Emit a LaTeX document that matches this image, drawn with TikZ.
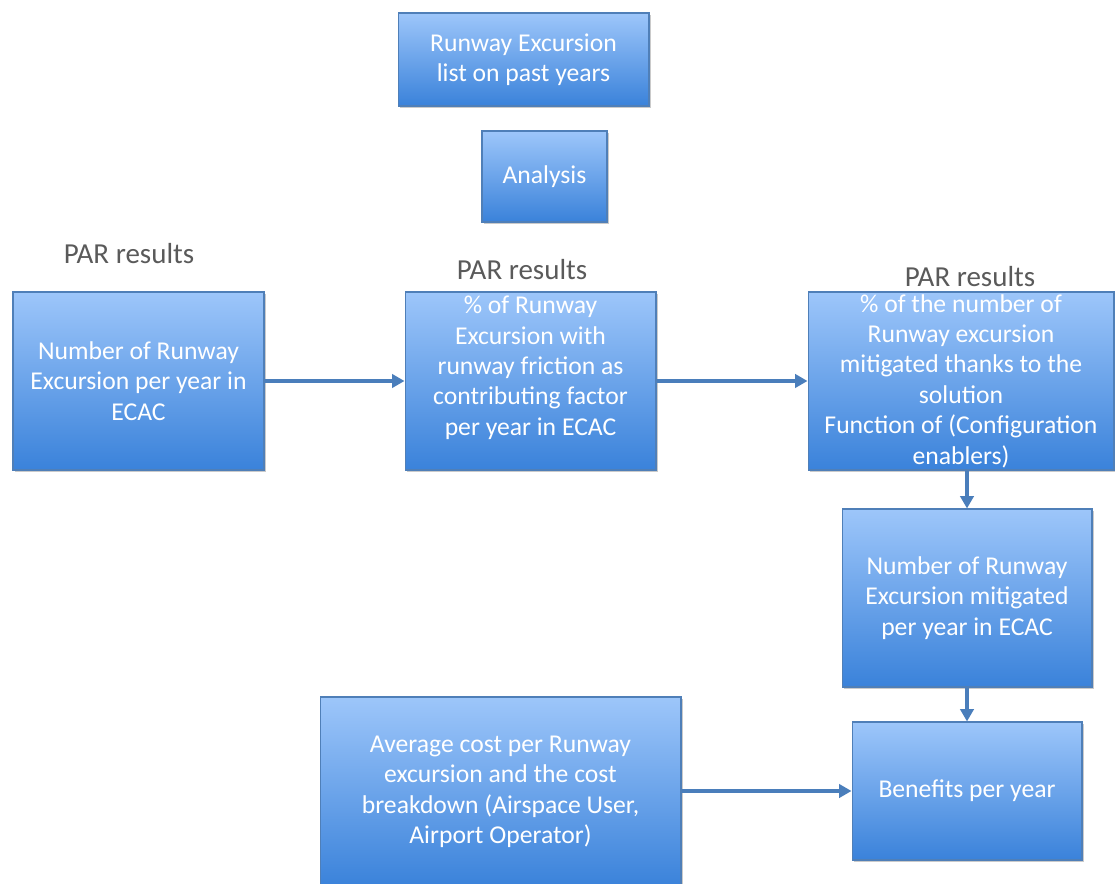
\documentclass[tikz,border=0pt]{standalone}
\usepackage{fontspec}
\setmainfont{Carlito}
\usepackage{tikz}
\usetikzlibrary{arrows.meta,positioning,shadows}
\definecolor{boxtop}{HTML}{9DC6FA}
\definecolor{boxbottom}{HTML}{3A82DA}
\definecolor{boxedge}{HTML}{4F7FB8}
\definecolor{arrowblue}{HTML}{4A7EBB}
\definecolor{labelgray}{HTML}{5A5A5A}
\tikzset{
  procbox/.style={draw=boxedge,line width=0.6pt,top color=boxtop,bottom color=boxbottom,
    text=white,align=center,inner sep=1pt,font=\fontsize{14.6}{17.3}\selectfont,
    drop shadow={shadow xshift=1.2pt,shadow yshift=-1.2pt,opacity=0.35,fill=black!60}},
  flowarrow/.style={-{Triangle[length=7pt,width=7.5pt]},line width=2.2pt,arrowblue},
  parlabel/.style={text=labelgray,font=\fontsize{16.5}{19}\selectfont,inner sep=1pt}
}

\begin{document}
\begin{tikzpicture}[x=0.02cm,y=-0.02cm]
  \useasboundingbox (0,0) rectangle (1115,884);
  % top boxes
  \node[procbox,minimum width=5.02cm,minimum height=1.86cm] (pastlist) at (523.5,59.5) {Runway Excursion\\list on past years};
  \node[procbox,minimum width=2.5cm,minimum height=1.82cm] (analysis) at (544.5,176.5) {Analysis};
  % PAR results row
  \node[parlabel] (parone) at (129,254) {PAR results};
  \node[parlabel] (partwo) at (522,270) {PAR results};
  \node[parlabel] (parthree) at (970,277) {PAR results};
  \node[procbox,minimum width=5.02cm,minimum height=3.56cm] (nbexc) at (138.5,381) {Number of Runway\\Excursion per year in\\ECAC};
  \node[procbox,minimum width=5.02cm,minimum height=3.56cm] (friction) at (530.5,381) {\% of Runway\\Excursion with\\runway friction as\\contributing factor\\per year in ECAC\\ \mbox{}};
  \node[procbox,minimum width=6.12cm,minimum height=3.56cm] (mitigpct) at (961,381) {\% of the number of\\Runway excursion\\mitigated thanks to the\\solution\\Function of (Configuration\\enablers)};
  % lower boxes
  \node[procbox,minimum width=5.0cm,minimum height=3.56cm] (nbmitig) at (967,598) {Number of Runway\\Excursion mitigated\\per year in ECAC};
  \node[procbox,minimum width=7.22cm,minimum height=3.8cm] (avgcost) at (500.5,792) {Average cost per Runway\\excursion and the cost\\breakdown (Airspace User,\\Airport Operator)};
  \node[procbox,minimum width=4.6cm,minimum height=2.76cm] (benefits) at (967,791) {Benefits per year};
  % connectors
  \draw[flowarrow] (nbexc) -- (friction);
  \draw[flowarrow] (friction) -- (mitigpct);
  \draw[flowarrow] (mitigpct.south -| nbmitig) -- (nbmitig);
  \draw[flowarrow] (nbmitig) -- (benefits);
  \draw[flowarrow] (avgcost.east |- benefits) -- (benefits);
\end{tikzpicture}
\end{document}
